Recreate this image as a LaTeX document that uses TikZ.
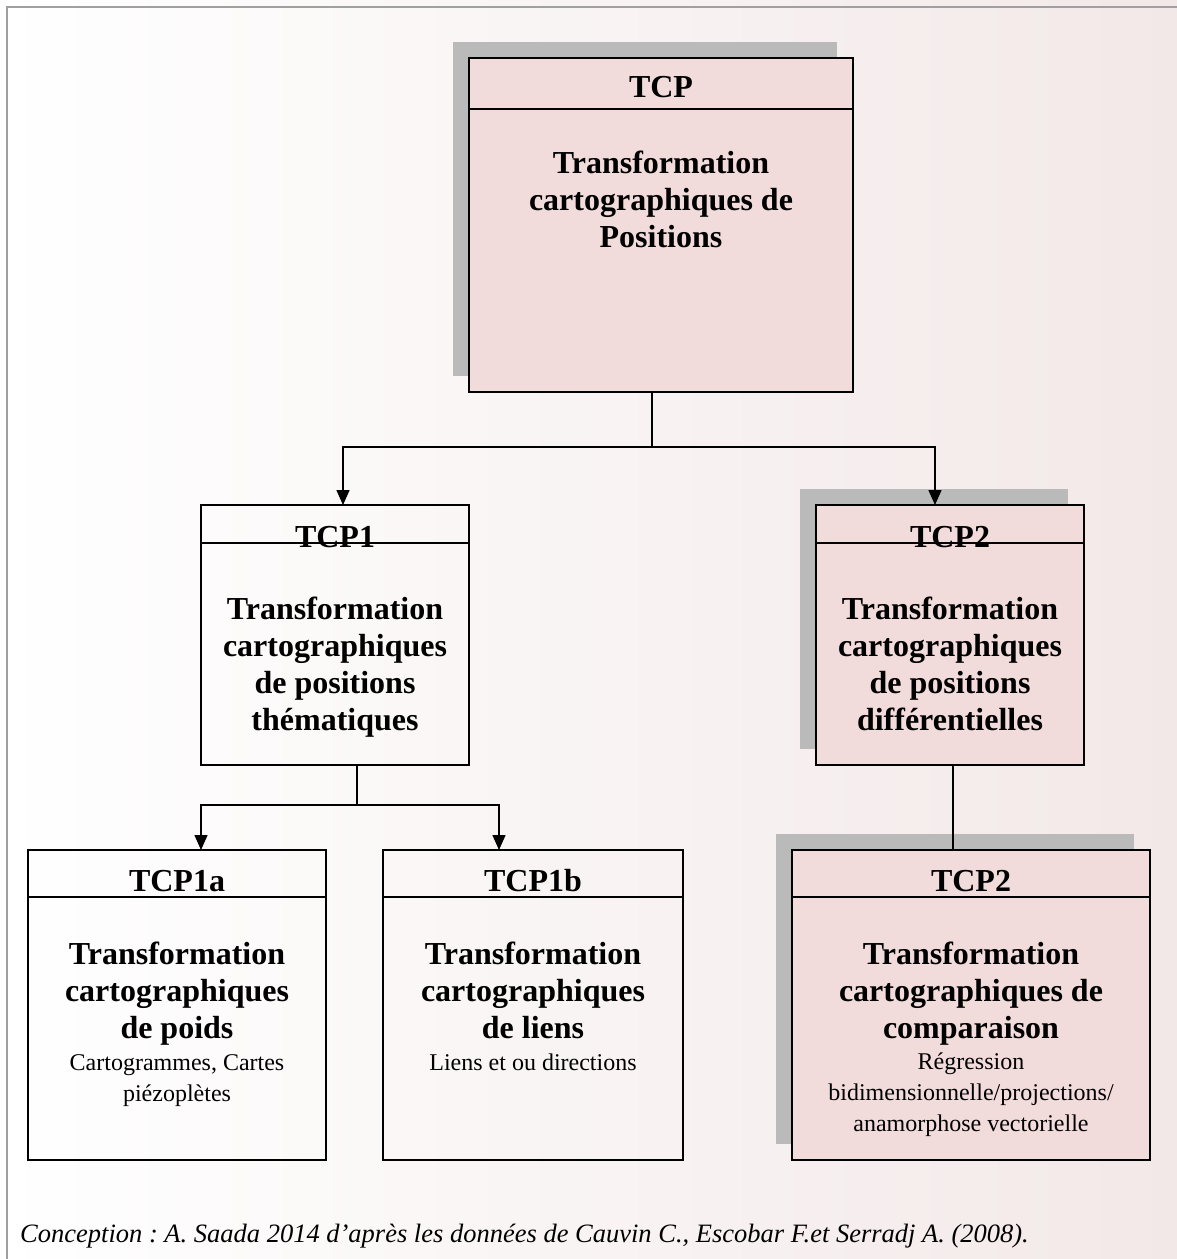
\documentclass[tikz,border=0pt]{standalone}
\usepackage{fontspec}
\setmainfont{Liberation Serif}
\usetikzlibrary{arrows.meta,shadows}
\definecolor{boxpink}{HTML}{F2DCDB}
\definecolor{shadowgray}{HTML}{BABABA}
\definecolor{framegray}{HTML}{A0A0A0}
\definecolor{bgpink}{HTML}{F3E8E8}
\frenchspacing

\begin{document}
\begin{tikzpicture}[x=1pt, y=-1pt,
        box/.style={draw, line width=2pt, rectangle, anchor=north west, inner sep=0pt, outer sep=0pt},
        shadowed/.style={general shadow={fill=shadowgray, shadow xshift=-16pt, shadow yshift=16pt}},
        headtxt/.style={font=\bfseries\fontsize{32}{37}\selectfont, anchor=base, inner sep=0pt},
        titletxt/.style={font=\bfseries\fontsize{32}{37}\selectfont, align=center, anchor=north, inner sep=0pt},
        notetxt/.style={font=\fontsize{24}{31}\selectfont, align=center, anchor=north, inner sep=0pt},
        link/.style={line width=1.5pt},
        arrow/.style={link, -{Triangle[length=15pt, width=13pt]}}]
    \useasboundingbox (0,0) rectangle (1177,1259);
    \shade[left color=white, right color=bgpink] (0,0) rectangle (1177,1259);
    \draw[framegray, line width=2pt] (7,1259) -- (7,7) -- (1177,7);

    \node[box, shadowed, fill=boxpink, minimum width=384pt, minimum height=334pt] (tcp) at (469,58) {};
    \node[headtxt] (tcp-head) at (661,97) {TCP};
    \draw[line width=2pt] ([yshift=-51pt]tcp.north west) -- ([yshift=-51pt]tcp.north east);
    \node[titletxt] (tcp-title) at (661,151) {Transformation\\cartographiques de\\Positions};

    \node[box, minimum width=268pt, minimum height=260pt] (tcp1) at (201,505) {};
    \node[headtxt] (tcp1-head) at (335,547) {TCP1};
    \draw[line width=2pt] ([yshift=-38pt]tcp1.north west) -- ([yshift=-38pt]tcp1.north east);
    \node[titletxt] (tcp1-title) at (335,597) {Transformation\\cartographiques\\de positions\\thématiques};

    \node[box, shadowed, fill=boxpink, minimum width=268pt, minimum height=260pt] (tcp2) at (816,505) {};
    \node[headtxt] (tcp2-head) at (950,547) {TCP2};
    \draw[line width=2pt] ([yshift=-38pt]tcp2.north west) -- ([yshift=-38pt]tcp2.north east);
    \node[titletxt] (tcp2-title) at (950,597) {Transformation\\cartographiques\\de positions\\différentielles};

    \node[box, minimum width=298pt, minimum height=310pt] (tcp1a) at (28,850) {};
    \node[headtxt] (tcp1a-head) at (177,891) {TCP1a};
    \draw[line width=2pt] ([yshift=-47pt]tcp1a.north west) -- ([yshift=-47pt]tcp1a.north east);
    \node[titletxt] (tcp1a-title) at (177,942) {Transformation\\cartographiques\\de poids};
    \node[notetxt] (tcp1a-note) at (177,1054) {Cartogrammes, Cartes\\piézoplètes};

    \node[box, minimum width=300pt, minimum height=310pt] (tcp1b) at (383,850) {};
    \node[headtxt] (tcp1b-head) at (533,891) {TCP1b};
    \draw[line width=2pt] ([yshift=-47pt]tcp1b.north west) -- ([yshift=-47pt]tcp1b.north east);
    \node[titletxt] (tcp1b-title) at (533,942) {Transformation\\cartographiques\\de liens};
    \node[notetxt] (tcp1b-note) at (533,1054) {Liens et ou directions};

    \node[box, shadowed, fill=boxpink, minimum width=358pt, minimum height=310pt] (tcp2b) at (792,850) {};
    \node[headtxt] (tcp2b-head) at (971,891) {TCP2};
    \draw[line width=2pt] ([yshift=-47pt]tcp2b.north west) -- ([yshift=-47pt]tcp2b.north east);
    \node[titletxt] (tcp2b-title) at (971,942) {Transformation\\cartographiques de\\comparaison};
    \node[notetxt] (tcp2b-note) at (971,1053) {Régression\\bidimensionnelle/projections/\\anamorphose vectorielle};

    \draw[link] ([xshift=-9pt]tcp.south) -- ++(0,55) coordinate (j0);
    \draw[arrow] (j0) -| ([xshift=8pt]tcp1.north);
    \draw[arrow] (j0) -| ([xshift=-15pt]tcp2.north);
    \draw[link] ([xshift=22pt]tcp1.south) -- ++(0,40) coordinate (j1);
    \draw[arrow] (j1) -| ([xshift=24pt]tcp1a.north);
    \draw[arrow] (j1) -| ([xshift=-34pt]tcp1b.north);
    \draw[link] ([xshift=3pt]tcp2.south) -- ([xshift=3pt]tcp2.south |- tcp2b.north);

    \node[anchor=west, inner sep=0pt, font=\itshape\fontsize{26.5}{31}\selectfont] (credit) at (20,1236) {Conception : A. Saada 2014 d’après les données de Cauvin C., Escobar F.et Serradj A. (2008).};
\end{tikzpicture}
\end{document}
